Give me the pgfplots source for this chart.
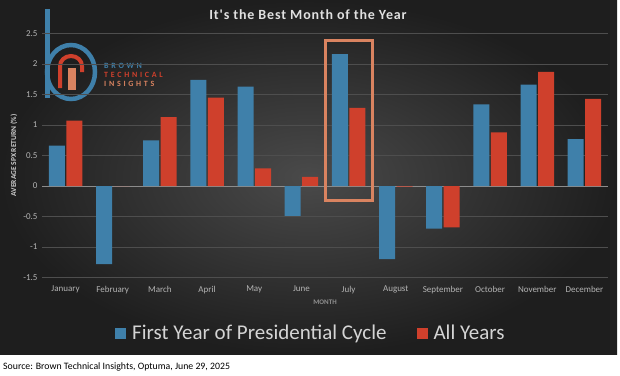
\documentclass[border=0pt]{standalone}
\usepackage{fontspec}
\setmainfont{Carlito}
\newfontfamily\titlefont[LetterSpace=6]{Carlito}
\newfontfamily\logofont[LetterSpace=34]{Carlito}
\usepackage{pgfplots}
\pgfplotsset{compat=1.18}
\definecolor{bblue}{HTML}{3F80AA}
\definecolor{bred}{HTML}{CF402C}
\definecolor{borange}{HTML}{D98360}
\definecolor{bginner}{HTML}{4A4A4A}
\definecolor{bgouter}{HTML}{1E1E1E}
\definecolor{gridc}{HTML}{4E4E4E}
\definecolor{ticktext}{HTML}{B4B4B4}
\definecolor{legtext}{HTML}{D4D4D4}
\begin{document}
\begin{tikzpicture}
\fill[white] (0pt,0pt) rectangle (620pt,-375pt);
\shade[inner color=bginner, outer color=bgouter] (0pt,0pt) rectangle (617pt,-354pt);
% logo (decoration)
\draw[bblue, line width=5pt] (47pt,-9pt) -- (47pt,-98pt);
\draw[bblue, line width=4.5pt] (71pt,-72pt) ellipse [x radius=24pt, y radius=27pt];
\draw[bred, line width=4pt] (60pt,-88pt) -- (60pt,-66pt) arc[start angle=180, end angle=0, x radius=11pt, y radius=10pt] -- (82pt,-72pt);
\fill[borange] (68pt,-68pt) rectangle (76pt,-90pt);
\node[anchor=west, inner sep=0pt, text=bblue, font=\logofont\bfseries\fontsize{8}{9}\selectfont] at (104pt,-66pt) {BROWN};
\node[anchor=west, inner sep=0pt, text=bred, font=\logofont\bfseries\fontsize{8}{9}\selectfont] at (104pt,-75pt) {TECHNICAL};
\node[anchor=west, inner sep=0pt, text=borange, font=\logofont\bfseries\fontsize{8}{9}\selectfont] at (104pt,-84pt) {INSIGHTS};
% title
\node[text=white!88!black, font=\titlefont\bfseries\fontsize{14}{16}\selectfont] at (308pt,-15pt) {It's the Best Month of the Year};
\begin{axis}[
  at={(42pt,-277.5pt)}, anchor=south west,
  scale only axis, width=566pt, height=244pt,
  ymin=-1.5, ymax=2.5, xmin=-0.5, xmax=11.5,
  ybar=1.5pt, bar width=16pt,
  axis line style={draw=none},
  major tick length=0pt,
  ymajorgrids, grid style={color=gridc, line width=0.8pt},
  ytick={-1.5,-1,-0.5,0,0.5,1,1.5,2,2.5},
  yticklabels={-1.5,-1,-0.5,0,0.5,1,1.5,2,2.5},
  xtick={0,...,11},
  xticklabels={January,February,March,April,May,June,July,August,September,October,November,December},
  tick label style={text=ticktext, font=\fontsize{9}{10}\selectfont},
  yticklabel style={xshift=-1pt},
  xticklabel style={yshift=-5pt},
  xlabel={MONTH},
  xlabel style={at={(axis description cs:0.5,-0.1)}, anchor=center, text=ticktext!80!black, font=\bfseries\fontsize{7}{8}\selectfont},
  ylabel={AVERAGE SPX RETURN (\%)},
  ylabel style={at={(axis description cs:-0.0495,0.5)}, anchor=center, text=white!80!black, font=\bfseries\fontsize{7.5}{8}\selectfont},
  legend style={at={(axis description cs:0.475,-0.228)}, anchor=center, draw=none, fill=none, text=legtext, font=\fontsize{21}{24}\selectfont, /tikz/every even column/.append style={column sep=28pt}},
  legend columns=2,
  clip=false,
]
\draw[white!55!black, line width=0.9pt] (axis cs:-0.5,0) -- (axis cs:11.5,0);
\addplot[fill=bblue, draw=none, legend image code/.code={\fill[bblue] (0pt,-5.5pt) rectangle (11pt,5.5pt); \path (0pt,0pt) (15pt,0pt);}] coordinates {
(0,0.66) (1,-1.28) (2,0.75) (3,1.74) (4,1.63) (5,-0.49) (6,2.16) (7,-1.20) (8,-0.70) (9,1.34) (10,1.66) (11,0.77)};
\addplot[fill=bred, draw=none, legend image code/.code={\fill[bred] (0pt,-5.5pt) rectangle (11pt,5.5pt); \path (0pt,0pt) (15pt,0pt);}] coordinates {
(0,1.07) (1,0.00) (2,1.13) (3,1.45) (4,0.29) (5,0.15) (6,1.28) (7,-0.01) (8,-0.68) (9,0.88) (10,1.87) (11,1.43)};
\legend{First Year of Presidential Cycle, All Years}
\draw[borange, line width=3pt] (axis cs:5.5,-0.24) rectangle (axis cs:6.5,2.38);
\end{axis}
\node[anchor=west, inner sep=0pt, font=\fontsize{9.8}{11}\selectfont] at (3pt,-367pt) {Source: Brown Technical Insights, Optuma, June 29, 2025};
\end{tikzpicture}
\end{document}
